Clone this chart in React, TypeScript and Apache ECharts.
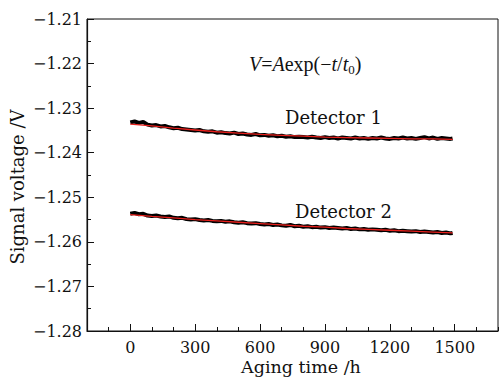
import React, { useEffect, useRef } from "react";
import * as echarts from "echarts";

const times = [0,20,40,60,80,100,120,140,160,180,200,220,240,260,280,300,320,340,360,380,400,420,440,460,480,500,520,540,560,580,600,620,640,660,680,700,720,740,760,780,800,820,840,860,880,900,920,940,960,980,1000,1020,1040,1060,1080,1100,1120,1140,1160,1180,1200,1220,1240,1260,1280,1300,1320,1340,1360,1380,1400,1420,1440,1460,1480,1490];

const detector1 = [-1.2332,-1.2330,-1.2333,-1.2331,-1.2337,-1.2339,-1.2338,-1.2341,-1.2340,-1.2343,-1.2345,-1.2344,-1.2347,-1.2348,-1.2349,-1.2350,-1.2349,-1.2352,-1.2353,-1.2352,-1.2355,-1.2354,-1.2356,-1.2357,-1.2355,-1.2358,-1.2357,-1.2359,-1.2360,-1.2358,-1.2361,-1.2360,-1.2362,-1.2361,-1.2363,-1.2362,-1.2364,-1.2363,-1.2365,-1.2364,-1.2365,-1.2366,-1.2364,-1.2366,-1.2367,-1.2365,-1.2367,-1.2366,-1.2368,-1.2366,-1.2367,-1.2368,-1.2366,-1.2368,-1.2367,-1.2369,-1.2367,-1.2368,-1.2366,-1.2368,-1.2369,-1.2367,-1.2368,-1.2366,-1.2368,-1.2367,-1.2369,-1.2367,-1.2365,-1.2368,-1.2366,-1.2369,-1.2367,-1.2368,-1.2369,-1.2368];

const detector2 = [-1.2537,-1.2535,-1.2538,-1.2537,-1.2541,-1.2542,-1.2541,-1.2543,-1.2544,-1.2543,-1.2546,-1.2547,-1.2546,-1.2549,-1.2550,-1.2549,-1.2551,-1.2552,-1.2551,-1.2553,-1.2554,-1.2553,-1.2555,-1.2554,-1.2556,-1.2557,-1.2556,-1.2558,-1.2559,-1.2558,-1.2560,-1.2561,-1.2560,-1.2562,-1.2561,-1.2563,-1.2564,-1.2562,-1.2565,-1.2564,-1.2566,-1.2565,-1.2567,-1.2566,-1.2568,-1.2567,-1.2569,-1.2568,-1.2569,-1.2570,-1.2569,-1.2571,-1.2570,-1.2572,-1.2571,-1.2573,-1.2572,-1.2573,-1.2574,-1.2573,-1.2575,-1.2574,-1.2576,-1.2575,-1.2576,-1.2577,-1.2576,-1.2578,-1.2577,-1.2578,-1.2579,-1.2578,-1.2580,-1.2579,-1.2581,-1.2580];

const fitTimes = [0,100,200,300,400,500,600,700,800,900,1000,1100,1200,1300,1400,1490];
const fit1 = [-1.2336,-1.2340,-1.2345,-1.2349,-1.2353,-1.2356,-1.2359,-1.2361,-1.2363,-1.2365,-1.2366,-1.2367,-1.2368,-1.2369,-1.2369,-1.2370];
const fit2 = [-1.2539,-1.2543,-1.2546,-1.2550,-1.2553,-1.2556,-1.2559,-1.2562,-1.2565,-1.2567,-1.2570,-1.2572,-1.2574,-1.2576,-1.2578,-1.2580];

const xMajorTicks = [0, 300, 600, 900, 1200, 1500];

const SERIF = "'DejaVu Serif', serif";
const TIMES = "'Liberation Serif', serif";

export default function App() {
  const ref = useRef<HTMLDivElement>(null);
  useEffect(() => {
    document.body.style.margin = "0";
    if (!ref.current) return;
    const chart = echarts.init(ref.current, undefined, { renderer: "svg" });
    const pair = (ts: number[], vs: number[]) => ts.map((t, i) => [t, vs[i]]);
    const fmtY = (v: number) => "\u2212" + Math.abs(v).toFixed(2);
    chart.setOption({
      animation: false,
      backgroundColor: "#fff",
      grid: { left: 87, top: 19, right: 1, bottom: 46, show: true, borderColor: "#111", borderWidth: 1 },
      xAxis: [
        {
          type: "value", min: -200, max: 1700, interval: 100,
          splitLine: { show: false },
          axisLine: { show: true, onZero: false, lineStyle: { color: "#111", width: 1.2 } },
          axisTick: { show: true, inside: true, length: 4, lineStyle: { color: "#111" } },
          axisLabel: {
            customValues: xMajorTicks, margin: 8,
            formatter: (v: number) => String(v),
            color: "#111", fontFamily: SERIF, fontSize: 16,
          },
        },
        {
          type: "value", min: -200, max: 1700, position: "bottom",
          splitLine: { show: false },
          axisLine: { show: false, onZero: false },
          axisTick: { show: true, inside: true, length: 7, customValues: xMajorTicks, lineStyle: { color: "#111" } },
          axisLabel: { show: false },
        },
      ],
      yAxis: {
        type: "value", min: -1.28, max: -1.21, interval: 0.01,
        splitLine: { show: false },
        axisLine: { show: true, onZero: false, lineStyle: { color: "#111", width: 1.2 } },
        axisTick: { show: true, inside: true, length: 7, lineStyle: { color: "#111" } },
        minorTick: { show: true, splitNumber: 2, length: 4, lineStyle: { color: "#111" } },
        axisLabel: { formatter: fmtY, margin: 5, color: "#111", fontFamily: SERIF, fontSize: 16 },
      },
      series: [
        { type: "line", data: pair(times, detector1), showSymbol: false, lineStyle: { color: "#000", width: 4 }, z: 2 },
        { type: "line", data: pair(times, detector2), showSymbol: false, lineStyle: { color: "#000", width: 4 }, z: 2 },
        { type: "line", data: pair(fitTimes, fit1), showSymbol: false, lineStyle: { color: "#e8201c", width: 1.3 }, z: 3 },
        { type: "line", data: pair(fitTimes, fit2), showSymbol: false, lineStyle: { color: "#e8201c", width: 1.3 }, z: 3 },
      ],
      graphic: [
        {
          type: "text", x: 17, y: 187, rotation: Math.PI / 2,
          style: { text: "Signal voltage /V", fontFamily: SERIF, fontSize: 18, fill: "#111", align: "center", verticalAlign: "middle" },
        },
        {
          type: "text", x: 301, y: 367,
          style: { text: "Aging time /h", fontFamily: SERIF, fontSize: 17.5, fill: "#111", align: "center", verticalAlign: "middle" },
        },
        {
          type: "text", x: 285, y: 117,
          style: { text: "Detector 1", fontFamily: SERIF, fontSize: 18, fill: "#111", align: "left", verticalAlign: "middle" },
        },
        {
          type: "text", x: 295, y: 211,
          style: { text: "Detector 2", fontFamily: SERIF, fontSize: 18, fill: "#111", align: "left", verticalAlign: "middle" },
        },
        {
          type: "text", x: 249, y: 64,
          style: {
            text: "{i|V}{n|=}{i|A}{n|exp(\u2212}{i|t}{n|/}{i|t}{s|0}{n|)}",
            align: "left", verticalAlign: "middle",
            rich: {
              i: { fontFamily: TIMES, fontStyle: "italic", fontSize: 20, fill: "#111" },
              n: { fontFamily: TIMES, fontSize: 20, fill: "#111" },
              s: { fontFamily: TIMES, fontSize: 13, fill: "#111", padding: [10, 0, 0, 0] },
            },
          },
        },
      ],
    });
    return () => chart.dispose();
  }, []);
  return <div ref={ref} style={{ width: 499, height: 377 }} />;
}
